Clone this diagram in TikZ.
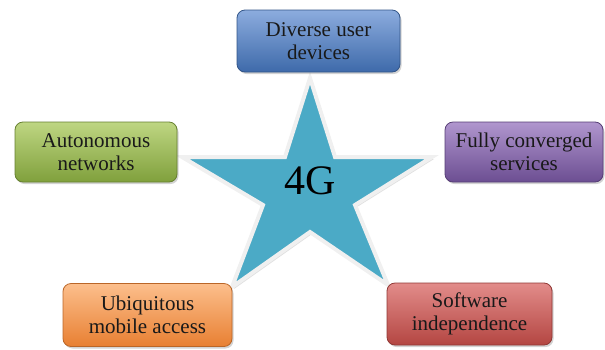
\documentclass[tikz,border=0pt]{standalone}
\usepackage{fontspec}
\setmainfont{Liberation Serif}
\newfontfamily\boxfont{Liberation Serif}
\usetikzlibrary{shadows,shadings}
\definecolor{starfill}{RGB}{75,170,198}
\definecolor{bluetop}{RGB}{140,172,222}
\definecolor{bluebot}{RGB}{62,106,170}
\definecolor{greentop}{RGB}{190,214,130}
\definecolor{greenbot}{RGB}{128,160,60}
\definecolor{purptop}{RGB}{176,150,206}
\definecolor{purpbot}{RGB}{108,78,146}
\definecolor{orangetop}{RGB}{252,190,140}
\definecolor{orangebot}{RGB}{232,128,50}
\definecolor{redtop}{RGB}{226,140,138}
\definecolor{redbot}{RGB}{180,70,66}
\tikzset{
  x=1pt, y=-1pt,
  featbox/.style={rounded corners=8pt, draw=#1bot!80!black, line width=0.8pt,
    top color=#1top, bottom color=#1bot, drop shadow={shadow xshift=1.5pt, shadow yshift=-2pt, opacity=0.35},
    align=center, font=\boxfont\fontsize{21}{23}\selectfont, text=black!90, inner sep=0pt},
}
\begin{document}
\begin{tikzpicture}
\useasboundingbox (0,0) rectangle (605,349);
% star
\path[fill=black!25, opacity=0.5] (312,80) -- (337,159) -- (434,159) -- (357,207) -- (390,287) -- (312,234) -- (234,289) -- (265,207) -- (184,159) -- (287,159) -- cycle;
\draw[fill=starfill, draw=black!6, line width=4pt, line join=miter]
  (310,78) -- (335,157) -- (432,157) -- (355,205) -- (388,285) -- (310,232) -- (232,287) -- (263,205) -- (182,157) -- (285,157) -- cycle;
\node[font=\boxfont\fontsize{42}{44}\selectfont] (c) at (310,181) {4G};
% boxes
\node[featbox=blue, minimum width=163pt, minimum height=62pt] (d) at (318.5,41) {Diverse user\\devices};
\node[featbox=green, minimum width=162pt, minimum height=60pt] (a) at (96,152) {Autonomous\\networks};
\node[featbox=purp, minimum width=158pt, minimum height=60pt] (f) at (524,152) {Fully converged\\services};
\node[featbox=orange, minimum width=169pt, minimum height=63pt] (u) at (147.5,315) {Ubiquitous\\mobile access};
\node[featbox=red, minimum width=165pt, minimum height=62pt] (s) at (469.5,314) {Software\\independence};
\end{tikzpicture}
\end{document}
